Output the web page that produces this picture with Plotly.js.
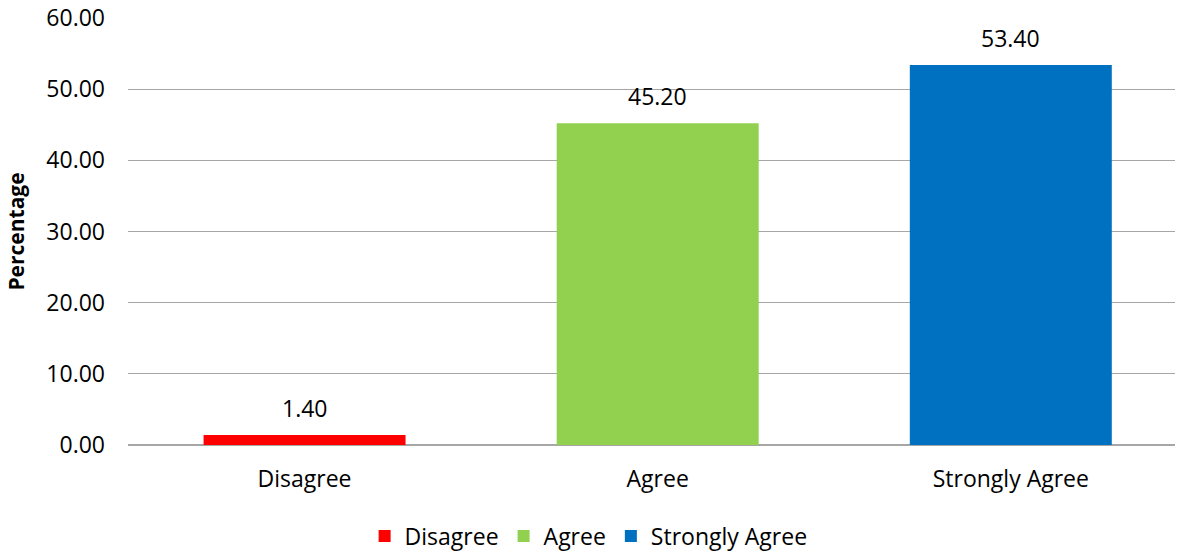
<!DOCTYPE html>
<html>
<head>
<meta charset="utf-8">
<script src="https://cdn.plot.ly/plotly-3.0.1.min.js"></script>
<style>html,body{margin:0;padding:0;background:#fff;}#chart{width:1183px;height:552px;}</style>
</head>
<body>
<div id="chart"></div>
<script>
const categories = ["Disagree", "Agree", "Strongly Agree"];
const values = [1.40, 45.20, 53.40];
const colors = ["#FF0000", "#92D050", "#0070C0"];
const yTicks = [0, 10, 20, 30, 40, 50, 60];

const FONT = "Open Sans, Liberation Sans, sans-serif";

const traces = categories.map((c, i) => ({
  type: "bar",
  name: c,
  x: [c],
  y: [values[i]],
  width: 0.572,
  marker: {color: colors[i]},
  hoverinfo: "x+y"
}));

const annotations = categories.map((c, i) => ({
  x: c, y: values[i], xref: "x", yref: "y",
  text: values[i].toFixed(2),
  showarrow: false, yanchor: "bottom", yshift: 9,
  font: {family: FONT, size: 23, color: "#000"}
}));

const layout = {
  width: 1183, height: 552,
  margin: {l: 128, r: 8, t: 18, b: 107, autoexpand: false},
  paper_bgcolor: "#fff", plot_bgcolor: "#fff",
  barmode: "overlay",
  showlegend: true,
  legend: {
    orientation: "h", x: 0.226, xanchor: "left", y: -0.213, yanchor: "middle",
    font: {family: FONT, size: 23, color: "#000"},
    traceorder: "normal", itemclick: false
  },
  xaxis: {
    type: "category",
    categoryorder: "array", categoryarray: categories,
    range: [-0.5, 2.465],
    showgrid: false, zeroline: false, showline: false,
    ticks: "", ticklabelstandoff: 18,
    tickfont: {family: FONT, size: 23, color: "#000"},
    fixedrange: true
  },
  yaxis: {
    range: [0, 60], tickvals: yTicks, tickformat: ".2f",
    showgrid: true, gridcolor: "#a6a6a6", gridwidth: 1.3,
    zeroline: true, zerolinecolor: "#a6a6a6", zerolinewidth: 1.3,
    showline: false, ticks: "", ticklabelstandoff: 22,
    tickfont: {family: FONT, size: 23, color: "#000"},
    title: {text: "<b>Percentage</b>", standoff: 15, font: {family: FONT, size: 21, color: "#000"}},
    fixedrange: true
  },
  annotations: annotations
};

Plotly.newPlot("chart", traces, layout, {displayModeBar: false, staticPlot: true});
</script>
</body>
</html>
